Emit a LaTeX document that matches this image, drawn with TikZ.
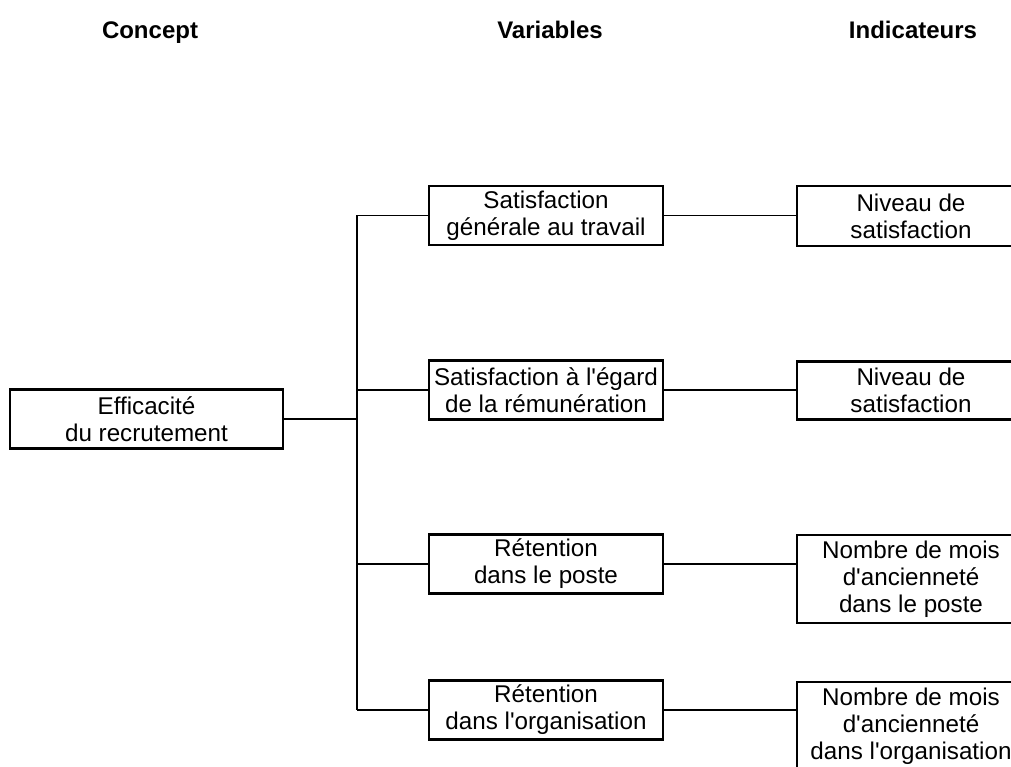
\documentclass[tikz,border=0pt]{standalone}
\usepackage{fontspec}
\setmainfont{Liberation Sans}
\newcommand{\apos}{\textquotesingle}
\begin{document}
\begin{tikzpicture}[x=1pt,y=-1pt,
  every node/.style={font=\fontsize{24.2}{27}\selectfont, inner sep=0pt, align=center},
  header/.style={font=\fontsize{24}{27}\selectfont\bfseries, anchor=base},
  box/.style={draw=black, line width=2.4pt, rectangle},
  conbox/.style={box, minimum width=273pt, minimum height=59pt},
  varbox/.style={box, minimum width=234pt, minimum height=59pt},
  indbox/.style={box, minimum width=228pt},
  link/.style={draw=black, line width=1.8pt}]
\clip (0,0) rectangle (1011,767);
\fill[white] (0,0) rectangle (1011,767);

\node[header] (h1) at (150,39) {Concept};
\node[header] (h2) at (550,39) {Variables};
\node[header] (h3) at (913,39) {Indicateurs};

\node[conbox] (c) at (146.5,419) {Efficacité\\du recrutement};

\node[varbox] (v1) at (546,215.5) {Satisfaction\\générale au travail};
\node[varbox] (v2) at (546,390) {Satisfaction à l\apos égard\\de la rémunération};
\node[varbox] (v3) at (546,564) {Rétention\\dans le poste};
\node[varbox] (v4) at (546,710) {Rétention\\dans l\apos organisation};

\node[indbox, minimum height=60pt] (i1) at (911,216) {Niveau de\\satisfaction};
\node[indbox, minimum height=58pt] (i2) at (911,390.5) {Niveau de\\satisfaction};
\node[indbox, minimum height=88pt] (i3) at (911,579) {Nombre de mois\\d\apos ancienneté\\dans le poste};
\node[indbox, minimum height=88pt] (i4) at (911,726) {Nombre de mois\\d\apos ancienneté\\dans l\apos organisation};

\coordinate (t) at (357,0);
\draw[link] (c.east) -- (c.east -| t);
\draw[link] (v1.west -| t) -- (v4.west -| t);
\draw[link] (v1.west -| t) -- (v1.west);
\draw[link] (v2.west -| t) -- (v2.west);
\draw[link] (v3.west -| t) -- (v3.west);
\draw[link] (v4.west -| t) -- (v4.west);

\draw[link] (v1.east) -- (v1.east -| i1.west);
\draw[link] (v2.east) -- (v2.east -| i2.west);
\draw[link] (v3.east) -- (v3.east -| i3.west);
\draw[link] (v4.east) -- (v4.east -| i4.west);
\end{tikzpicture}
\end{document}
